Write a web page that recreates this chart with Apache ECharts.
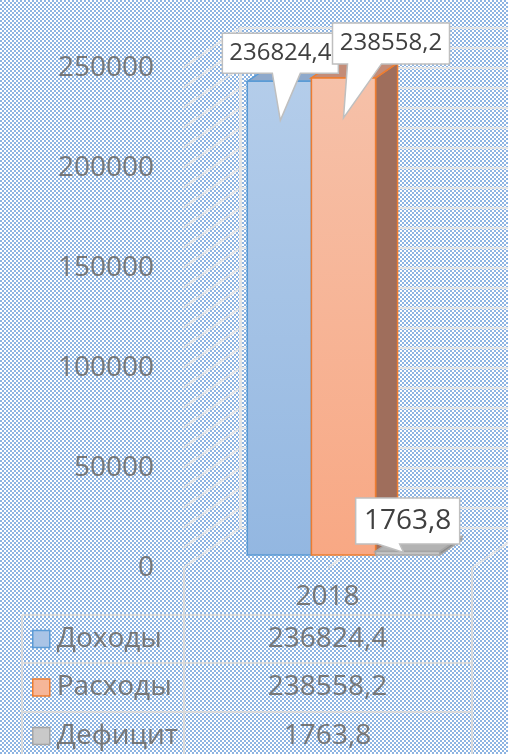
<!DOCTYPE html>
<html><head><meta charset="utf-8">
<script src="https://cdn.jsdelivr.net/npm/echarts@6/dist/echarts.min.js"></script>
<style>html,body{margin:0;padding:0;width:508px;height:754px;overflow:hidden;} #c{width:508px;height:754px;}</style>
</head><body><div id="c"></div>
<script>
// ---------- data ----------
const categories = ['2018'];
const seriesNames = ['Доходы', 'Расходы', 'Дефицит'];
const incomeValues = [236824.4];
const expenseValues = [238558.2];
const deficitValues = [1763.8];
const yTickLabels = [0, 50000, 100000, 150000, 200000, 250000];
const gridLineValues = [0, 10000, 20000, 30000, 40000, 50000, 60000, 70000, 80000, 90000, 100000,
  110000, 120000, 130000, 140000, 150000, 160000, 170000, 180000, 190000, 200000,
  210000, 220000, 230000, 240000, 250000];
const allValues = [incomeValues, expenseValues, deficitValues];

// ---------- style ----------
const FONT = '"Open Sans", "Noto Sans", sans-serif';
const TXT = '#777777';
const GRIDC = '#e4e4e4';
const TABLEC = '#dadada';
const WALL_DX = 57, WALL_DY = -40;       // depth of whole 3D box
const BAR_DX = 19, BAR_DY = -13;         // bar front face depth
const BAR_DEPTH_DX = 22, BAR_DEPTH_DY = -15;

// background checker pattern
(function () {
  const pc = document.createElement('canvas'); pc.width = 4; pc.height = 4;
  const g = pc.getContext('2d');
  g.fillStyle = '#ffffff'; g.fillRect(0, 0, 4, 4);
  g.fillStyle = '#8db4e2'; g.fillRect(0, 0, 2, 2); g.fillRect(2, 2, 2, 2);
  document.body.style.background = 'url(' + pc.toDataURL() + ') repeat';
})();

const LG = echarts.graphic.LinearGradient;
const barStyles = [
  { front: new LG(0, 0, 0, 1, [{ offset: 0, color: '#b4cdea' }, { offset: 1, color: '#93b7e1' }]),
    stroke: '#5b9bd5', top: '#8fa9cb', side: '#6f8fb8', legendFill: '#a9c4e6' },
  { front: new LG(0, 0, 0, 1, [{ offset: 0, color: '#f6c1a9' }, { offset: 1, color: '#f8a884' }]),
    stroke: '#ed7d31', top: '#c48c77', side: '#9f6e5c', legendFill: '#f6b699' },
  { front: new LG(0, 0, 0, 1, [{ offset: 0, color: '#cfcfcf' }, { offset: 1, color: '#bdbdbd' }]),
    stroke: '#a5a5a5', top: '#b3b3b3', side: '#8c8c8c', legendFill: '#c9c9c9' }
];
// callout label geometry relative to the bar's top-front centre
const labelStyles = [
  { dx: 1, dy: -28, w: 116, h: 40, fs: 24, tipDx: 1, tipDy: 39, baseL: -7, baseR: 21 },
  { dx: 47.5, dy: -34.5, w: 117, h: 41, fs: 24, tipDx: 0, tipDy: 40, baseL: 4, baseR: 38 },
  { dx: 0, dy: -30.5, w: 104, h: 46, fs: 28, tipDx: -4, tipDy: 1, baseL: -30, baseR: -8 }
];

function fmt(v) { return v.toFixed(1).replace('.', ','); }

function barRenderer(idx) {
  return function (params, api) {
    const cat = api.value(0);
    const v = api.value(1);
    const base = api.coord([cat, 0]);
    const top = api.coord([cat, v]);
    const band = api.size([1, 0])[0];
    const bw = band * 0.222;
    const x0 = base[0] - 1.5 * bw + idx * bw + BAR_DX - 3;
    const x1 = x0 + bw;
    const yb = base[1] + BAR_DY;
    const yt = top[1] + BAR_DY;
    const s = barStyles[idx];
    const ddx = BAR_DEPTH_DX, ddy = BAR_DEPTH_DY;
    const ls = labelStyles[idx];
    const cx = (x0 + x1) / 2;
    const bcx = cx + ls.dx, bcy = yt + ls.dy;
    const bx0 = bcx - ls.w / 2, bx1 = bcx + ls.w / 2, by0 = bcy - ls.h / 2, by1 = bcy + ls.h / 2;
    const tip = [cx + ls.tipDx, yt + ls.tipDy];
    return {
      type: 'group',
      children: [
        { type: 'polygon', shape: { points: [[x1, yt], [x1 + ddx, yt + ddy], [x1 + ddx, yb + ddy], [x1, yb]] },
          style: { fill: s.side, stroke: s.stroke, lineWidth: 1.5 } },
        { type: 'polygon', shape: { points: [[x0, yt], [x0 + ddx, yt + ddy], [x1 + ddx, yt + ddy], [x1, yt]] },
          style: { fill: s.top, stroke: s.stroke, lineWidth: 1.5 } },
        { type: 'rect', shape: { x: x0, y: yt, width: bw, height: Math.max(yb - yt, 0.5) },
          style: { fill: s.front, stroke: s.stroke, lineWidth: 1.5 } },
        { type: 'polygon', z2: 100 + idx,
          shape: { points: [[bx0, by0], [bx1, by0], [bx1, by1], [cx + ls.baseR, by1], tip, [cx + ls.baseL, by1], [bx0, by1]] },
          style: { fill: '#ffffff', stroke: '#bfbfbf', lineWidth: 1.5 } },
        { type: 'text', z2: 110 + idx, x: bcx, y: bcy,
          style: { text: fmt(v), fill: '#404040', font: ls.fs + 'px ' + FONT, align: 'center', verticalAlign: 'middle' } }
      ]
    };
  };
}

const chart = echarts.init(document.getElementById('c'), null, { renderer: 'canvas' });

const rowY = [639, 687.5, 736];
const legends = seriesNames.map((n, i) => ({
  data: [{ name: n, itemStyle: { color: barStyles[i].legendFill, borderColor: barStyles[i].stroke, borderWidth: 1.5 } }],
  left: 32, top: rowY[i] - 17, orient: 'horizontal', padding: 0,
  itemWidth: 17, itemHeight: 17, icon: 'rect', selectedMode: false,
  textStyle: { fontSize: 28, color: TXT, fontFamily: FONT, lineHeight: 34, padding: [0, 0, 0, 2] }
}));

const tableGraphics = [
  { type: 'line', shape: { x1: 22, y1: 615, x2: 472, y2: 615 }, style: { stroke: TABLEC, lineWidth: 2 }, silent: true },
  { type: 'line', shape: { x1: 22, y1: 663, x2: 472, y2: 663 }, style: { stroke: TABLEC, lineWidth: 2 }, silent: true },
  { type: 'line', shape: { x1: 22, y1: 712, x2: 472, y2: 712 }, style: { stroke: TABLEC, lineWidth: 2 }, silent: true },
  { type: 'line', shape: { x1: 22, y1: 615, x2: 22, y2: 760 }, style: { stroke: TABLEC, lineWidth: 2 }, silent: true },
  { type: 'line', shape: { x1: 184, y1: 567, x2: 184, y2: 760 }, style: { stroke: TABLEC, lineWidth: 2 }, silent: true },
  { type: 'line', shape: { x1: 472, y1: 567, x2: 472, y2: 760 }, style: { stroke: TABLEC, lineWidth: 2 }, silent: true }
].concat(allValues.map((arr, i) => ({
  type: 'text', x: 327.5, y: rowY[i], silent: true,
  style: { text: fmt(arr[0]), fill: TXT, font: '28px ' + FONT, align: 'center', verticalAlign: 'middle' }
})));

chart.setOption({
  animation: false,
  backgroundColor: 'transparent',
  grid: [
    { left: 183, right: 36, top: 68, bottom: 186 },
    { left: 183 + WALL_DX, right: 0, top: 68 + WALL_DY, bottom: 186 - WALL_DY }
  ],
  xAxis: [
    { gridIndex: 0, type: 'category', data: categories, boundaryGap: true,
      axisLine: { show: false }, axisTick: { show: false }, splitLine: { show: false },
      axisLabel: { fontSize: 28, color: TXT, fontFamily: FONT, margin: 15 } },
    { gridIndex: 1, type: 'category', data: categories, show: false }
  ],
  yAxis: [
    { gridIndex: 0, type: 'value', min: 0, max: 250000, interval: 50000,
      axisLine: { show: false }, axisTick: { show: false }, splitLine: { show: false },
      axisLabel: { fontSize: 28, color: TXT, fontFamily: FONT, margin: 29,
        formatter: v => (yTickLabels.indexOf(v) >= 0 ? String(v) : '') } },
    { gridIndex: 1, type: 'value', min: 0, max: 250000, interval: 10000,
      axisLine: { show: true, lineStyle: { color: GRIDC, width: 3 } }, axisTick: { show: false },
      axisLabel: { show: false },
      splitLine: { show: true, lineStyle: { color: GRIDC, width: 2 } } }
  ],
  legend: legends,
  graphic: tableGraphics,
  series: [
    { type: 'custom', name: '_walls', xAxisIndex: 0, yAxisIndex: 0, silent: true, z: 1,
      data: gridLineValues.map(v => [0, v]),
      renderItem: function (params, api) {
        const p = api.coord([0, api.value(1)]);
        const x = params.coordSys.x;
        return { type: 'line', shape: { x1: x, y1: p[1], x2: x + WALL_DX, y2: p[1] + WALL_DY },
          style: { stroke: GRIDC, lineWidth: 2 } };
      } },
    { type: 'custom', name: '_floor', xAxisIndex: 0, yAxisIndex: 0, silent: true, z: 1,
      data: [[0, 0]],
      renderItem: function (params, api) {
        const b = api.coord([0, 0]);
        const cs = params.coordSys;
        const xs = [b[0], cs.x + cs.width];
        return { type: 'group', children: xs.map(x => ({ type: 'line',
          shape: { x1: x, y1: b[1], x2: x + WALL_DX, y2: b[1] + WALL_DY },
          style: { stroke: GRIDC, lineWidth: 2 } })) };
      } }
  ].concat(allValues.map((arr, i) => ({
    type: 'custom', name: seriesNames[i], xAxisIndex: 0, yAxisIndex: 0, z: 2,
    itemStyle: { color: barStyles[i].legendFill, borderColor: barStyles[i].stroke },
    data: arr.map((v, k) => [k, v]),
    renderItem: barRenderer(i)
  })))
});
</script>
</body></html>
